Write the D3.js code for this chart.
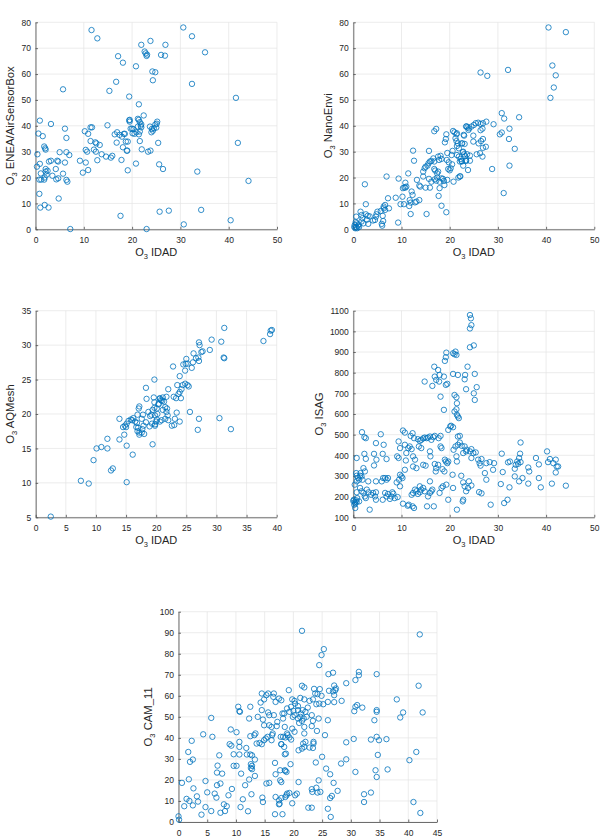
<!DOCTYPE html>
<html><head><meta charset="utf-8">
<script src="https://cdn.jsdelivr.net/npm/d3@7"></script>
<style>body{margin:0;background:#fff}svg{display:block}</style>
</head><body>
<script>
// ---------- data: [O3 IDAD, O3 sensor] ----------
const enea = [[11.6,77],[12.8,73.8],[17.1,66.9],[18.1,64.4],[16.7,57],[15.3,53.5],[20.8,63],[21.9,71.3],[23.8,72.8],[22.8,68],[23,67],[23.1,67.5],[22.6,68.7],[24.2,61],[24.8,60.7],[24.3,57.6],[5.7,54.1],[19.4,51.3],[21.4,48.3],[0.9,42],[3.2,40.7],[6.1,38.9],[0.6,37],[1.5,36],[6.4,35.3],[1.8,32],[2.0,31.3],[2.1,30.8],[0.4,29],[5.0,29.8],[6.4,29.8],[7.0,28.7],[2.8,26.2],[3.2,26.5],[4.5,26.5],[4.7,26.2],[6.1,25.8],[0.3,24.2],[0.9,25.3],[1.1,21.6],[2.1,22.3],[2.5,22.6],[2.1,23.3],[3.5,20.7],[4.2,23.3],[5.7,21.5],[4.3,19.3],[4.7,19.7],[6.4,19.1],[6.6,18.4],[0.8,19.2],[1.2,19.2],[1.8,19.2],[1.9,20],[2.3,21.1],[0.8,13.7],[1.0,8.4],[1.9,9.4],[2.7,8.4],[4.8,11.9],[7.2,0.1],[9.2,26.5],[9.8,21.9],[10.4,25.8],[10.7,30],[10.4,30.7],[10.9,22.9],[10.2,37.9],[10.9,36.9],[11.4,39.4],[11.7,39.4],[11.4,34.1],[12.1,30.8],[12.5,30],[12.6,33.2],[12.4,33.6],[13.3,32.6],[12.8,26.7],[13.7,29],[14.6,28.1],[14.9,40.2],[15.6,27.7],[15.9,28.4],[16.4,36.7],[16.8,33.5],[16.9,37.5],[17.4,36.5],[17.9,35.8],[18.3,36.9],[18.5,36.9],[18.1,31.7],[17.8,26.8],[18.7,33.9],[19.1,33.9],[18.9,30.4],[19.0,30.4],[19.1,22.8],[17.6,5.2],[19.4,42.1],[19.5,41.6],[19.5,42.3],[19.7,38.9],[20.0,38.9],[20.3,38.7],[20.1,37.1],[20.5,36.9],[20.9,37.5],[21.2,42.7],[21.4,42.3],[21.6,41.4],[21.2,39.7],[21.9,40.6],[21.8,40],[21.9,39.4],[22.4,44],[21.6,37.8],[21.4,36.7],[21.6,34.1],[22.0,30.9],[20.8,25.4],[23.0,0.1],[23.3,30],[23.8,30.4],[23.7,39.7],[24.1,38.8],[24.3,38.1],[24.5,39.0],[24.0,37.5],[25.0,39.3],[25.2,41.6],[24.8,40.5],[25.1,40.8],[25.4,33.4],[25.6,25.1],[25.7,6.8],[30.6,78],[32.4,74.6],[35.1,68.4],[26.9,71.3],[26.0,67.4],[26.8,67.1],[32.4,56.2],[41.5,50.8],[41.9,33.4],[26.4,23.3],[33.5,22.3],[44.1,18.7],[27.6,7.2],[34.3,7.5],[40.4,3.5],[30.7,1.9]];

const nanoEnvi = [[0.3,1.7],[0.6,0.9],[0.8,0.4],[1.0,1.4],[1.2,0.9],[0.4,0.4],[0.7,2.3],[1.1,1.9],[0.2,0.9],[0.5,2.8],[0.6,4.9],[1.5,6.8],[1.7,5.5],[1.9,4.3],[1.7,3],[2.1,2.3],[2.4,17.4],[2.6,9.7],[2.6,5.8],[3.0,5.2],[2.8,3.7],[3.4,5],[3.1,2.1],[4.1,3.4],[4.5,3.6],[4.8,5.8],[5.0,6.8],[4.7,4.9],[5.7,7.1],[5.9,2.1],[6.0,1.4],[6.2,3.2],[6.1,5.2],[6.3,8.1],[6.6,7.5],[6.6,9.4],[6.3,8.8],[6.9,20.4],[7.2,12],[7.4,8.1],[8.8,12.2],[9.3,2.6],[9.4,19.6],[9.8,9.7],[10.5,9.7],[10.2,12.6],[10.3,15.9],[10.6,16.2],[10.8,16.1],[11.0,16.5],[10.8,18],[11.4,21.6],[11.6,9],[11.9,10.3],[11.7,11.3],[11.9,5.9],[12.1,14.6],[12.3,13.3],[12.4,30.4],[12.6,26.5],[12.8,10.4],[13.1,10.7],[13.2,19.1],[13.7,16.9],[13.9,16.5],[13.7,11.3],[14.5,20.4],[14.5,22.3],[14.8,23.6],[15,24.2],[15.4,24.6],[15.6,25.5],[15.2,5.9],[15.0,16.1],[15.7,30.3],[15.9,26.2],[16.2,26.4],[16.6,27.4],[15.7,19.5],[16.2,18.4],[15.9,16.1],[16.8,26.2],[16.8,23.3],[17,22.7],[16.8,37.9],[17.2,38.8],[16.9,19.3],[17.2,18.8],[17.4,20],[17.6,28.1],[17.6,22.3],[17.4,21.6],[17.7,12.9],[17.8,26.8],[18.1,28.4],[18.3,27.2],[17.9,15.9],[17.9,18.4],[18.3,19.7],[18.6,19.5],[18.8,18.7],[18.9,17.1],[18.3,9.1],[19.0,33.6],[19.2,34.9],[19.3,36.7],[19.3,6.6],[19.5,29.5],[19.4,26.8],[19.8,25.9],[20,22.8],[19.7,23.3],[19.5,19.1],[20.2,23.6],[20.5,25.1],[20.6,30.3],[20.4,28.7],[20.7,38],[20.8,18.4],[21.0,37.5],[21.4,36.7],[21.5,37.1],[21.2,35.2],[21.4,34.1],[21.5,32.2],[21.7,33.2],[21.9,31.3],[21.5,28.7],[21.9,28.1],[22.3,27.2],[22.5,26.4],[22.1,26.2],[21.8,20],[22.2,20.5],[22.8,30],[23,29],[23.2,28.2],[23.4,26.7],[22.6,33.2],[22.9,36.5],[23.4,39.7],[23.7,39.4],[23.9,38.4],[23.8,22.9],[40.5,78],[44.1,76.2],[32.1,61.6],[26.4,60.6],[27.8,59.3],[41.3,63.3],[42.0,59.5],[41.6,54.8],[40.9,50.8],[30.8,44.9],[31.3,42.8],[34.4,43.3],[32.4,38.9],[30.8,37.4],[30.4,36.7],[32.3,34.9],[33.5,31.1],[32.4,24.6],[28.8,23.3],[31.2,14],[29.1,40.6],[27.6,41.6],[26.9,41],[26.4,40.7],[25.9,41.2],[25.4,41],[25,40.3],[24.5,39.7],[24.0,39],[23.5,39.8],[26.8,38.9],[26.4,38.3],[24.9,36.2],[23.0,36.2],[26.9,34.9],[26.5,34.1],[26,33.2],[24.9,33.9],[27.5,31.9],[26.9,31.5],[22.5,33.2],[23.1,33],[25.6,29],[26.3,29.4],[26.8,28.1],[22.7,29.8],[23.6,29],[24.2,28.5],[22.5,26.2],[23.4,26.4],[24.2,26.5],[22.8,24.6],[22.1,20.4]];

const aqMesh = [[2.5,5.1],[7.5,10.3],[8.8,9.9],[15.1,10.1],[9.6,13.3],[10.1,15],[10.9,15.2],[11.9,15],[11.9,16.4],[12.5,11.8],[12.8,12.1],[13.9,16.3],[13.9,19.3],[14.7,17],[14.5,18.1],[14.8,18.3],[15.0,18.1],[15.1,18.6],[15.1,15.4],[16.1,14.1],[15.4,19],[15.8,19.2],[16.0,19.1],[16.2,19.4],[16.5,18.9],[16.8,18.7],[16.7,18.1],[17.1,20.8],[17.2,21.1],[16.9,19.9],[16.9,17.5],[17.2,17.3],[17.2,17],[17.0,18],[17.6,19.3],[17.8,19.9],[17.7,17.8],[17.9,18.3],[18.3,18.8],[17.6,17.3],[18,17.1],[18.3,23.8],[18.4,22.2],[18.7,20.3],[19,19.7],[19.2,19.9],[18.9,18.2],[19.3,18.6],[19.4,20.6],[19.7,20.9],[19.6,22.4],[19.7,21.7],[19.4,15.6],[19.7,25],[19.8,19.8],[20.0,18.9],[19.8,18.3],[20.2,20.0],[20.1,19.2],[20.4,21.5],[20.6,22.2],[31.3,32.5],[29.2,30.8],[30.8,30.5],[27.1,30.4],[27.2,30],[28.9,29.3],[27.7,29.1],[27.5,29],[26.2,28.8],[27.0,28.2],[26.6,28.1],[27.1,27.7],[26.1,27.5],[31.2,28.2],[31.3,28.1],[25.9,26.7],[25.0,28],[24.9,27.3],[24.5,27.2],[25.2,27.3],[24.8,26.3],[22.8,26.9],[23.9,25.5],[37.8,30.6],[38.9,31.6],[39.0,32.1],[39.2,32.2],[24.4,24.2],[24.8,24.4],[25.2,24.2],[25.4,24.0],[23.5,24.2],[24.2,23.6],[23.9,23.2],[22.0,23.6],[22.9,22.5],[23.3,22.3],[23.7,22.9],[24.1,22.3],[21.7,22.5],[21.1,22.4],[20.6,22.3],[21.0,21.9],[21.3,21.8],[20.8,22.0],[21.5,21.0],[21.8,20.8],[21.7,20.3],[21.9,19.8],[21.5,19.3],[21.1,20.6],[20.4,21.4],[20.1,20.8],[23.4,20.2],[25.6,20.3],[23.1,19.3],[23.9,18.9],[23.0,18.4],[22.6,18.3],[22.0,19.1],[20.9,19.1],[20.6,18.9],[19.8,18.5],[27.1,19.3],[30.5,19.4],[26.9,17.7],[32.4,17.8]];

const isag = [[0.1,185],[0.3,174],[0.4,166],[0.0,179],[0.6,182],[0.2,161],[0.7,174],[0.4,145],[0.7,221],[0.6,314],[0.7,301],[0.7,387],[0.3,258],[1.0,290],[1.4,301],[1.7,298],[1.2,282],[1.9,282],[0.7,274],[1.8,512],[2.3,488],[2.6,483],[2.3,407],[2.6,383],[2.1,338],[2.4,322],[1.5,314],[1.4,242],[1.7,226],[2.1,218],[2.4,201],[0.8,193],[1.2,177],[2.8,234],[3.2,221],[2.6,193],[3.1,274],[3.4,137],[3.7,209],[4.1,218],[4.5,201],[4.7,185],[4.3,407],[4.8,379],[4.3,351],[4.7,459],[4.7,274],[4.7,221],[5.7,502],[6.1,407],[6.3,451],[6.9,382],[5.9,274],[6.2,290],[6.6,290],[6.9,282],[7.2,290],[6.1,185],[6.6,218],[6.9,201],[7.2,213],[7.6,189],[7.9,201],[8.3,214],[8.6,193],[8.1,221],[9.4,467],[9.7,435],[9.1,395],[9.4,387],[9.0,269],[9.7,306],[10,298],[9.5,282],[10.2,290],[9.7,250],[9.2,198],[10.3,520],[10.7,510],[10.7,451],[11,411],[11.4,435],[10.7,330],[10.9,375],[10.3,166],[11.5,161],[11.3,156],[11.9,494],[12.3,507],[12.6,483],[11.7,443],[12.1,430],[12.4,395],[12.8,379],[12.4,346],[13.1,338],[12.1,209],[12.4,218],[12.8,234],[13.1,226],[13.4,213],[13.8,221],[12.6,145],[12.3,153],[13.4,478],[13.8,470],[14.1,475],[14.5,482],[14.8,486],[15.2,483],[15.5,486],[13.6,443],[14.1,435],[14.5,354],[15,350],[13.8,250],[14.1,234],[14.5,242],[14.8,226],[14.8,757],[15.3,153],[15.5,201],[15.9,218],[16.4,234],[16.2,226],[15.9,274],[15.9,491],[16.2,475],[16.6,488],[16.9,494],[15.9,419],[16.0,395],[16.4,736],[16.9,781],[16.8,829],[17.2,765],[16.9,358],[17.2,338],[17.6,354],[17.1,322],[16.7,153],[17.6,813],[17.9,789],[17.8,757],[18.1,684],[17.7,483],[18.1,494],[18.1,443],[18.3,435],[17.9,218],[18.3,242],[18.6,250],[18.8,620],[19.0,857],[19.2,875],[19.3,897],[19.2,741],[19.5,746],[18.8,781],[19.0,379],[19.2,370],[19.5,362],[19.7,370],[18.5,333],[18.9,322],[19.3,258],[19.7,185],[19.7,523],[20.1,540],[20.3,543],[20.7,536],[20.6,306],[20.7,242],[20.7,894],[21,889],[21.4,886],[21.2,902],[20.7,794],[21.0,692],[21.4,681],[21.5,652],[21,612],[21.4,623],[21.5,596],[21.7,588],[21.9,580],[20.8,427],[21.2,443],[21.7,491],[21.7,451],[22.1,462],[21.4,395],[21.5,370],[21.7,789],[22.8,185],[21.5,137],[22.4,301],[22.8,269],[23.1,250],[23.2,789],[23.1,768],[23.4,720],[23.7,829],[23.1,443],[23.4,419],[23.4,226],[23.8,242],[24.2,1079],[24.4,1063],[24.5,1030],[24.2,1014],[24.2,923],[25.0,932],[25.2,794],[25.6,730],[25,700],[25.2,668],[22.1,494],[22.5,446],[23.5,427],[24.2,419],[24.5,430],[24.9,411],[25.4,414],[24.5,387],[22.8,411],[34.7,462],[34.6,408],[34.4,387],[34,370],[34.7,367],[34.2,359],[33.7,354],[30.8,408],[32.1,366],[32.5,370],[26.6,382],[26.2,362],[25.9,379],[26.4,350],[27.6,362],[28.3,367],[29.2,362],[29.0,330],[31,319],[27.3,314],[27.6,282],[30.6,261],[33.5,335],[36.3,341],[36.5,322],[37.9,387],[38.5,356],[40.2,419],[40.4,367],[40.8,382],[41.5,362],[42,379],[42.2,346],[42.5,346],[42.0,317],[33.5,298],[35.1,290],[34.4,274],[36.3,263],[38.5,290],[38.9,245],[41.2,263],[44.1,253],[32.4,245],[32.0,185],[31.3,169],[28.5,161],[26.1,222],[26.6,216],[22.7,177],[24.0,274],[24.5,254]];

const cam11 = [[0,2.7],[0.1,1.1],[0.6,18.6],[1.0,7.5],[1.4,11],[1.9,10],[1.7,33.3],[2.0,28.6],[2.5,29.7],[1.8,20.3],[2.3,38.6],[2.5,7.9],[2.6,16],[3.2,12.2],[3.4,9.7],[4.0,3.5],[4.3,41.7],[4.7,19.5],[4.7,7.1],[5.0,14.1],[5.7,49.5],[5.7,5.2],[5.9,40.5],[6.3,13.5],[6.6,11.6],[6.8,26.8],[6.7,23.5],[6.7,17.5],[7.1,31.7],[7.3,18.3],[7.6,23],[7.3,4.4],[8.1,5.2],[8.4,7.5],[7.9,8.4],[8.7,12.7],[8.9,37],[9.2,36.3],[9.1,44],[9.3,15.7],[9.6,32.2],[9.6,26.7],[10.1,42.7],[10.1,26.7],[10.4,54.8],[10.6,52.7],[10.7,52.4],[10.6,38.1],[10.6,35.7],[10.6,32.1],[10.8,7.1],[10.9,23],[11.2,10.8],[11.6,17.5],[11.8,35.2],[11.9,32.1],[12.1,5.1],[12.3,20.2],[12.3,49.2],[12.5,54.8],[12.5,40.8],[12.5,32.1],[12.8,31.7],[12.6,27.5],[12.8,26.7],[12.6,25.7],[12.8,25.1],[12.7,13.2],[13.2,41.3],[13.4,42.1],[13.3,21.9],[13.3,29.7],[13.6,37.3],[13.8,50],[14.1,37.6],[14.5,37],[14.3,56.8],[14.5,61.1],[14.5,53.2],[14.6,11.6],[14.7,9.5],[14.7,48.7],[14.9,46],[14.9,38.9],[15.2,39.7],[14.9,58.3],[15.3,60.3],[15.3,18.3],[15.6,61.1],[15.6,52.1],[15.8,50.8],[15.5,40.5],[15.8,46],[15.8,18.6],[16.2,45.2],[16.3,41.3],[16.4,42.1],[16.2,38.9],[16.5,59.5],[16.6,50.8],[16.8,28.1],[16.6,61.1],[16.9,57.1],[16.8,3.7],[16.9,11.9],[17.5,10.3],[16.9,22.7],[17.1,45.6],[17.2,47.6],[17.5,8.4],[17.5,58.7],[17.9,57.9],[17.7,19.8],[17.9,19],[17.8,40.5],[17.9,37],[18.1,3.7],[18.1,51.6],[18.5,32.2],[18.6,40.2],[18.6,11.9],[18.9,13.5],[18.5,24.6],[18.8,23.8],[18.9,42.1],[19.2,62.7],[18.9,54],[21.5,90.9],[25.3,82.2],[24.9,79.4],[24.5,74.6],[26.1,70.3],[26.9,71],[31.4,71.4],[31.4,69.8],[30.8,67.5],[29.2,66],[34.5,70.3],[42,89.2],[41.8,64.8],[21.5,64.8],[21.9,64],[23.6,63.3],[23.8,61.1],[24.2,60.8],[24.6,63.2],[24.9,60],[26.2,62.4],[26.9,62.1],[27.3,62.7],[27.1,64.9],[27.1,60.3],[27.4,63.5],[28.4,57.6],[27.1,57],[26,57.1],[19.8,58.3],[20.2,57.6],[20.3,56.3],[20.8,55.1],[21.2,59],[21.9,58.3],[22.8,57.6],[23.4,58.3],[24.0,56],[24.5,56.3],[25.2,56],[19.6,54.8],[19.3,52.4],[20,52.9],[20.8,53.2],[21.3,51.6],[21.6,53.2],[22.1,52.4],[22.5,54.4],[21.2,50],[21.8,49.2],[22.3,50],[23.2,50.8],[20.2,50.8],[20.8,49.2],[19.9,50],[18.4,51.6],[18.2,49.2],[21.5,48.1],[21.0,47.1],[21.9,45.2],[23.4,48.1],[23.2,45.6],[24.4,49.2],[26,48.4],[19.8,44.4],[20.2,42.9],[18.5,45.2],[18.2,40.5],[19.0,41.3],[19.3,40.2],[19.6,39.2],[21.9,42.1],[24.1,43.3],[25.5,41.3],[17.9,37],[18.4,35.7],[20.9,34.1],[21.5,34.9],[21.9,35.7],[21.7,37.3],[22.1,38.1],[22.8,35.4],[23.4,35.2],[23.5,37.3],[23.5,38.1],[18.7,32.5],[30.8,54.8],[31.1,55.6],[32,54.4],[30.6,52.7],[34.5,53.2],[34.5,52.4],[34.1,48.4],[38.0,58.3],[39.1,52.1],[38.6,49.7],[42.5,52.1],[33.5,39.2],[34.5,40.5],[34.9,38.9],[36.2,39.4],[30.5,39.5],[29.2,37.9],[34.3,24.6],[34.5,21.4],[34.7,31.9],[36.4,25],[30.8,23.8],[28.3,27.8],[29.2,29.8],[25.0,31],[23.9,28.3],[19.5,27.5],[17.7,24.6],[18.6,24.3],[20.9,19],[24.4,19.8],[26.4,22.7],[27.0,18.6],[25.7,25.4],[24.0,16.3],[23.2,15.6],[23.3,14.3],[24.2,14],[24.7,14.3],[20.6,13.5],[20.3,12.7],[19.3,13.8],[18.8,12.7],[17.9,11.4],[17.6,8.7],[19.8,8.9],[27.7,14.8],[26.7,12.4],[26.4,11.4],[32.3,13.2],[32.3,9.5],[33.5,14],[40.2,29.4],[41.4,33.3],[40.9,9.5],[42.1,4.3],[22.6,6.8],[23.2,6.8],[26,6.3],[26.5,2.4]];

// ---------- tick values ----------
const ticksX50 = [0,10,20,30,40,50];
const ticksX40 = [0,5,10,15,20,25,30,35,40];
const ticksX45 = [0,5,10,15,20,25,30,35,40,45];
const ticksY80 = [0,10,20,30,40,50,60,70,80];
const ticksY35 = [5,10,15,20,25,30,35];
const ticksY1100 = [100,200,300,400,500,600,700,800,900,1000,1100];
const ticksY100 = [0,10,20,30,40,50,60,70,80,90,100];

// ---------- labels ----------
const xLabelName = "IDAD";
const sensorNames = ["ENEA/AirSensorBox","NanoEnvi","AQMesh","ISAG","CAM_11"];

// ---------- layout ----------
const panels = [
  {data: enea,     name: sensorNames[0], xt: ticksX50, yt: ticksY80,   box: [35.5, 22.3, 277, 229.3],   yOff: 21.3, xLab: true},
  {data: nanoEnvi, name: sensorNames[1], xt: ticksX50, yt: ticksY80,   box: [353.3, 22.3, 594.3, 229.3], yOff: 21.3, xLab: true},
  {data: aqMesh,   name: sensorNames[2], xt: ticksX40, yt: ticksY35,   box: [35.7, 310.7, 276.7, 517.3], yOff: 21.8, xLab: true},
  {data: isag,     name: sensorNames[3], xt: ticksX50, yt: ticksY1100, box: [353.3, 310.7, 594.3, 517.3], yOff: 30.8, xLab: true},
  {data: cam11,    name: sensorNames[4], xt: ticksX45, yt: ticksY100,  box: [178.5, 611.7, 437, 822],    yOff: 26.3, xLab: false}
];

const FONT = "'Liberation Sans', Arial, Helvetica, sans-serif";
const AXC = "#4a4a4a";
const TXT = "#262626";
const GRID = "#e4e4e4";
const BLUE = "#0072BD";
const fmt = d3.format("d");

const svg = d3.select("body").append("svg").attr("width", 610).attr("height", 840)
  .style("font-family", FONT);
svg.append("rect").attr("width", 610).attr("height", 840).attr("fill", "#fff");

panels.forEach(p => {
  const [x0, y0, x1, y1] = p.box;
  const xs = d3.scaleLinear().domain(d3.extent(p.xt)).range([x0, x1]);
  const ys = d3.scaleLinear().domain(d3.extent(p.yt)).range([y1, y0]);
  const g = svg.append("g");

  // grid
  g.append("g").selectAll("line").data(p.xt).join("line")
    .attr("x1", d => xs(d)).attr("x2", d => xs(d)).attr("y1", y0).attr("y2", y1)
    .attr("stroke", GRID).attr("stroke-width", 0.7);
  g.append("g").selectAll("line").data(p.yt).join("line")
    .attr("y1", d => ys(d)).attr("y2", d => ys(d)).attr("x1", x0).attr("x2", x1)
    .attr("stroke", GRID).attr("stroke-width", 0.7);

  // axes
  const ax = g.append("g").attr("transform", `translate(0,${y1})`)
    .call(d3.axisBottom(xs).tickValues(p.xt).tickFormat(fmt).tickSizeInner(-2.5).tickSizeOuter(0).tickPadding(7.5));
  const ay = g.append("g").attr("transform", `translate(${x0},0)`)
    .call(d3.axisLeft(ys).tickValues(p.yt).tickFormat(fmt).tickSizeInner(-2.5).tickSizeOuter(0).tickPadding(4.5));
  [ax, ay].forEach(a => {
    a.attr("color", AXC).attr("font-family", FONT).attr("font-size", 8.5);
    a.selectAll("path,line").attr("stroke-width", 0.8);
    a.selectAll("text").attr("fill", TXT);
  });

  // markers
  g.append("g").selectAll("circle").data(p.data).join("circle")
    .attr("cx", d => xs(d[0])).attr("cy", d => ys(d[1])).attr("r", 2.7)
    .attr("fill", "none").attr("stroke", BLUE).attr("stroke-width", 0.8);

  // x label (the bottom panel's label lies below the picture's edge in the reference)
  if (p.xLab) {
    const xl = g.append("text").attr("x", (x0 + x1) / 2).attr("y", y1 + 26.5)
      .attr("text-anchor", "middle").attr("font-size", 11).attr("fill", TXT);
    xl.append("tspan").text("O");
    xl.append("tspan").attr("font-size", 7.5).attr("dy", 3).text("3");
    xl.append("tspan").attr("dy", -3).text(" " + xLabelName);
  }

  // y label
  const yl = g.append("text")
    .attr("transform", `translate(${x0 - p.yOff},${(y0 + y1) / 2}) rotate(-90)`)
    .attr("text-anchor", "middle").attr("font-size", 11.3).attr("fill", TXT);
  yl.append("tspan").text("O");
  yl.append("tspan").attr("font-size", 7.5).attr("dy", 3).text("3");
  yl.append("tspan").attr("dy", -3).text(" " + p.name);
});
</script>
</body></html>
